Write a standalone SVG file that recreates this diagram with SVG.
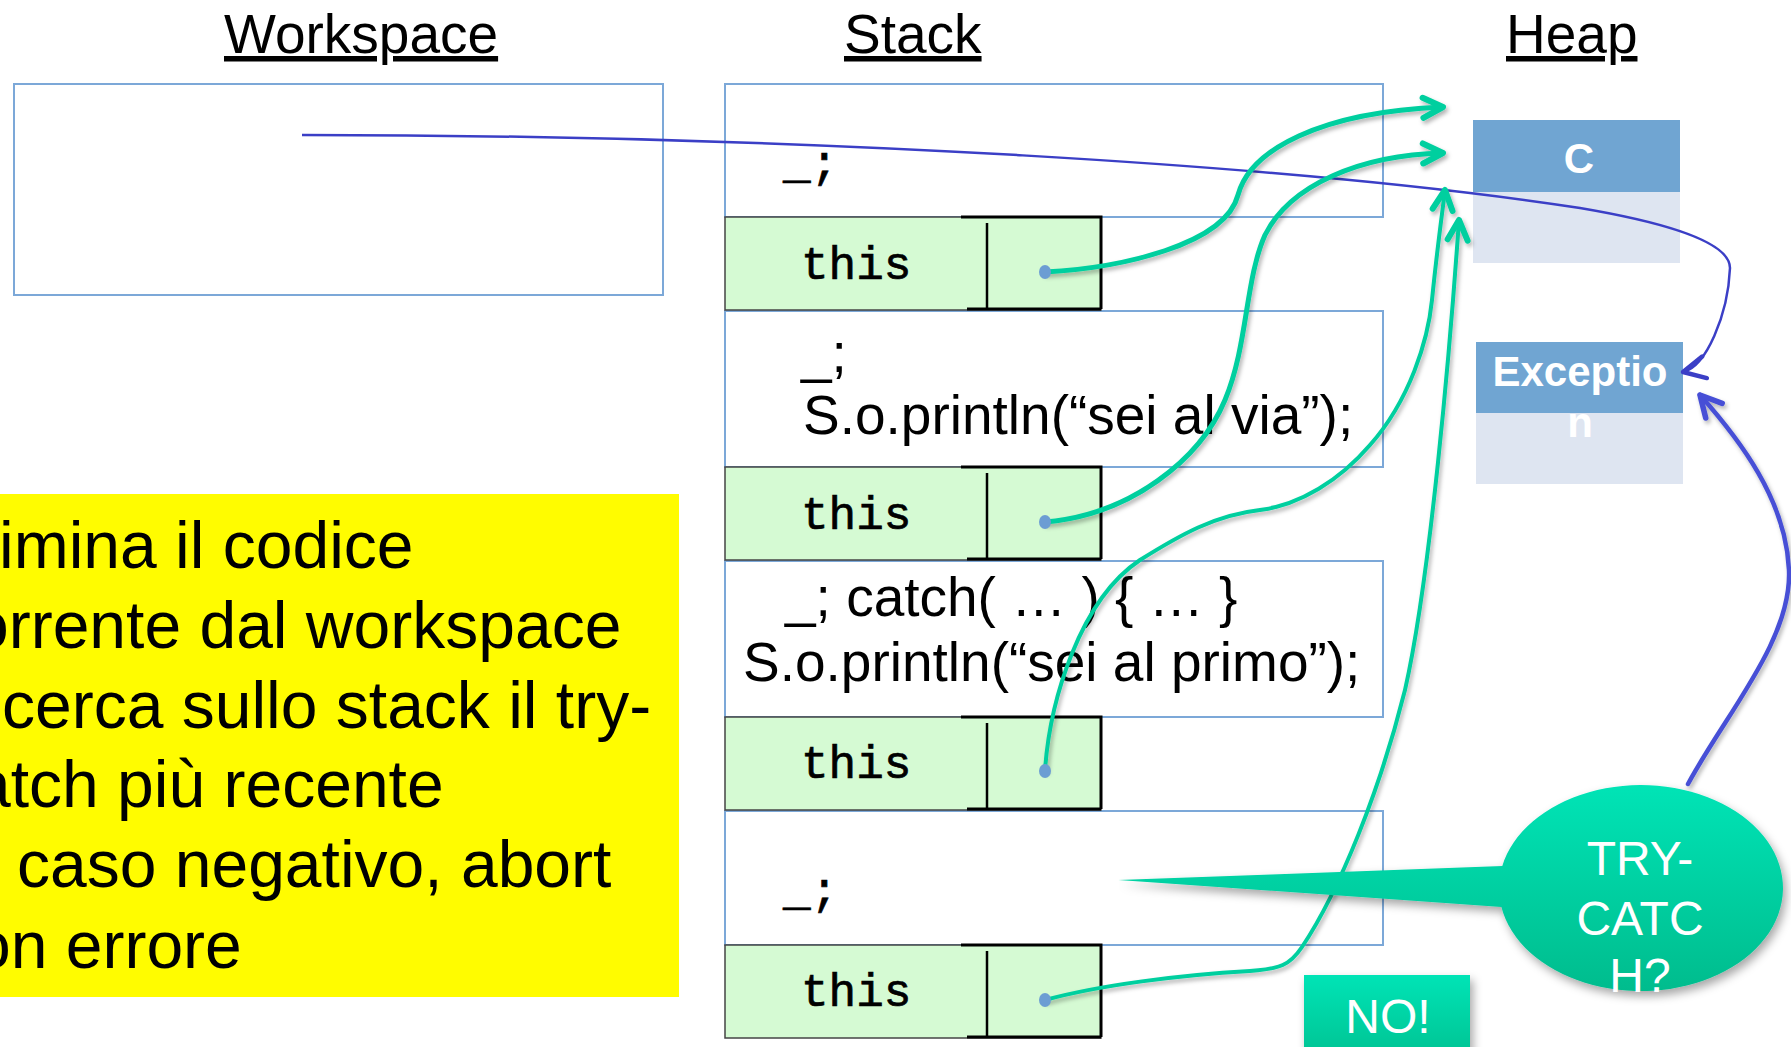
<svg xmlns="http://www.w3.org/2000/svg" width="1791" height="1047" viewBox="0 0 1791 1047">
<defs>
<style>
.hdr{font-family:"Liberation Sans",Arial,sans-serif;font-size:55px;fill:#000;text-decoration:underline}
.frame{fill:#fff;stroke:#7CA8D8;stroke-width:2}
.cell{fill:#D5FAD3;stroke:#444;stroke-width:1.5}
.blk{stroke:#000;fill:none}
.mono{font-family:"Liberation Mono","Courier New",monospace;font-size:46px;fill:#000;stroke:#000;stroke-width:0.7}
.code{font-family:"Liberation Sans",Arial,sans-serif;font-size:55px;fill:#000}
.note{font-family:"Liberation Sans",Arial,sans-serif;font-size:66px;fill:#000}
.objh{fill:#70A5D2}
.objb{fill:#DEE5F1}
.objt{font-family:"Liberation Sans",Arial,sans-serif;font-size:42px;font-weight:bold;fill:#fff;text-anchor:middle}
.teal{fill:none;stroke:#00CF9F;stroke-linecap:round;filter:url(#sh);marker-end:url(#ta)}
.dot{fill:#6C9DD3}
.wt{font-family:"Liberation Sans",Arial,sans-serif;font-size:48px;fill:#fff;text-anchor:middle}
</style>
<filter id="sh" x="-20%" y="-20%" width="140%" height="140%">
<feDropShadow dx="2" dy="3" stdDeviation="2" flood-color="#000" flood-opacity="0.3"/>
</filter>
<filter id="sh2" x="-20%" y="-20%" width="140%" height="140%">
<feDropShadow dx="3" dy="5" stdDeviation="5" flood-color="#000" flood-opacity="0.35"/>
</filter>
<linearGradient id="tg" gradientUnits="userSpaceOnUse" x1="0" y1="785" x2="0" y2="992">
<stop offset="0" stop-color="#00E4B6"/>
<stop offset="1" stop-color="#00BC8D"/>
</linearGradient>
<linearGradient id="ng" x1="0" y1="0" x2="0" y2="1">
<stop offset="0" stop-color="#00E4B6"/>
<stop offset="1" stop-color="#00C494"/>
</linearGradient>
<marker id="ta" markerUnits="userSpaceOnUse" viewBox="-30 -20 40 40" markerWidth="40" markerHeight="40" refX="0" refY="0" orient="auto">
<path d="M-20,-10 L0,0 L-20,10" fill="none" stroke="#00CF9F" stroke-width="6" stroke-linecap="round" stroke-linejoin="round"/>
</marker>
<marker id="ba" markerUnits="userSpaceOnUse" viewBox="-30 -20 40 40" markerWidth="40" markerHeight="40" refX="0" refY="0" orient="auto">
<path d="M-22,-11 L0,0 L-22,11" fill="none" stroke="#3B3FC6" stroke-width="4.5" stroke-linecap="round" stroke-linejoin="round"/>
</marker>
<marker id="bb" markerUnits="userSpaceOnUse" viewBox="-30 -20 40 40" markerWidth="40" markerHeight="40" refX="0" refY="0" orient="auto">
<path d="M-21,-11 L0,0 L-21,11" fill="none" stroke="#4650D6" stroke-width="5.5" stroke-linecap="round" stroke-linejoin="round"/>
</marker>
</defs>

<g id="headers">
<text class="hdr" x="224" y="53">Workspace</text>
<text class="hdr" x="844" y="53">Stack</text>
<text class="hdr" x="1506" y="53">Heap</text>
</g>

<g id="workspace">
<rect x="14" y="84" width="649" height="211" fill="#fff" stroke="#7CA8D8" stroke-width="2"/>
</g>

<g id="note">
<rect x="0" y="494" width="679" height="503" fill="#FFFC00"/>
<text class="note" x="-1" y="568">imina il codice</text>
<text class="note" x="-28" y="648">orrente dal workspace</text>
<text class="note" x="2" y="728">cerca sullo stack il try-</text>
<text class="note" x="-26" y="807">atch più recente</text>
<text class="note" x="17" y="887">caso negativo, abort</text>
<text class="note" x="-26" y="968">on errore</text>
</g>

<g id="frame1">
<rect class="frame" x="725" y="84" width="658" height="133"/>
<text class="mono" x="783" y="178">_;</text>
</g>
<g id="frame2">
<rect class="frame" x="725" y="311" width="658" height="156"/>
<text class="code" x="801" y="372">_;</text>
<text class="code" x="803" y="434">S.o.println(“sei al via”);</text>
</g>
<g id="frame3">
<rect class="frame" x="725" y="561" width="658" height="156"/>
<text class="code" x="785" y="616">_; catch( … ) { … }</text>
<text class="code" x="743" y="681">S.o.println(“sei al primo”);</text>
</g>
<g id="frame4">
<rect class="frame" x="725" y="811" width="658" height="134"/>
<text class="mono" x="783" y="905">_;</text>
</g>

<g id="this1">
<rect class="cell" x="725" y="217" width="376" height="93"/>
<path class="blk" d="M961,217 H1101 V309 M967,309 H1101" stroke-width="3"/>
<path class="blk" d="M987,223 V309" stroke-width="2.5"/>
<text class="mono" x="801" y="279">this</text>
</g>
<g id="this2">
<rect class="cell" x="725" y="467" width="376" height="93"/>
<path class="blk" d="M961,467 H1101 V559 M967,559 H1101" stroke-width="3"/>
<path class="blk" d="M987,473 V559" stroke-width="2.5"/>
<text class="mono" x="801" y="529">this</text>
</g>
<g id="this3">
<rect class="cell" x="725" y="717" width="376" height="93"/>
<path class="blk" d="M961,717 H1101 V809 M967,809 H1101" stroke-width="3"/>
<path class="blk" d="M987,723 V809" stroke-width="2.5"/>
<text class="mono" x="801" y="778">this</text>
</g>
<g id="this4">
<rect class="cell" x="725" y="945" width="376" height="93"/>
<path class="blk" d="M961,945 H1101 V1037 M967,1037 H1101" stroke-width="3"/>
<path class="blk" d="M987,951 V1037" stroke-width="2.5"/>
<text class="mono" x="801" y="1006">this</text>
</g>

<g id="objC">
<rect class="objh" x="1473" y="120" width="207" height="72"/>
<rect class="objb" x="1473" y="192" width="207" height="71"/>
<text class="objt" x="1579" y="173">C</text>
</g>
<g id="objException">
<rect class="objh" x="1476" y="342" width="207" height="71"/>
<rect class="objb" x="1476" y="413" width="207" height="71"/>
<text class="objt" x="1580" y="386">Exceptio</text>
<text class="objt" x="1580" y="437">n</text>
</g>

<g id="connectors">
<path d="M302,135 C800,135 1300,165 1580,208 C1680,225 1730,245 1730,268 C1728,315 1706,367 1683,372" fill="none" stroke="#3B3FC6" stroke-width="2.5" marker-end="url(#ba)"/>
<path class="teal" stroke-width="5" d="M1045,272 C1120,268 1225,245 1238,195 C1250,150 1320,112 1443,107"/>
<path class="teal" stroke-width="5" d="M1045,522 C1130,515 1200,460 1225,400 C1248,345 1245,280 1265,235 C1290,185 1360,155 1443,153"/>
<path class="teal" stroke-width="4" d="M1045,770 C1050,700 1080,600 1140,560 C1180,535 1215,515 1260,510 C1300,505 1340,480 1370,445 C1410,400 1428,340 1432,300 C1437,250 1442,215 1445,190"/>
<path class="teal" stroke-width="4" d="M1045,1000 C1100,985 1180,975 1250,971 C1280,969 1290,965 1302,947 C1340,890 1380,790 1405,690 C1430,580 1450,350 1459,220"/>
<ellipse class="dot" cx="1045" cy="272" rx="6" ry="7"/>
<ellipse class="dot" cx="1045" cy="522" rx="6" ry="7"/>
<ellipse class="dot" cx="1045" cy="771" rx="6" ry="7"/>
<ellipse class="dot" cx="1045" cy="1000" rx="6" ry="7"/>
<path d="M1688,784 C1725,715 1792,640 1789,570 C1786,500 1740,440 1700,395" fill="none" stroke="#4650D6" stroke-width="4.5" stroke-linecap="round" filter="url(#sh)" marker-end="url(#bb)"/>
</g>

<g id="callout">
<path d="M1502.3,866 L1118.5,880 L1501.4,907 A142,103 0 1 0 1502.3,866 Z" fill="url(#tg)" filter="url(#sh2)"/>
<text class="wt" x="1640" y="875">TRY-</text>
<text class="wt" x="1640" y="935">CATC</text>
<text class="wt" x="1640" y="992">H?</text>
</g>

<g id="no">
<rect x="1304" y="975" width="166" height="80" fill="url(#ng)" filter="url(#sh2)"/>
<text class="wt" x="1388" y="1033">NO!</text>
</g>
</svg>
